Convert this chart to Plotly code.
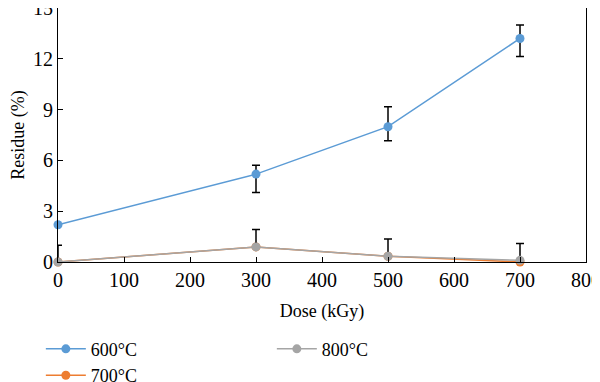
import plotly.graph_objects as go

dose = [0, 300, 500, 700]
s600 = [2.2, 5.19, 7.99, 13.2]
s600_plus = [0.0, 0.53, 1.18, 0.8]
s600_minus = [0.0, 1.09, 0.83, 1.07]
s700 = [0.0, 0.89, 0.34, 0.0]
s800 = [0.0, 0.89, 0.34, 0.1]
s800_plus = [0.99, 1.03, 1.02, 0.99]
names = ["600°C", "700°C", "800°C"]
colors = ["#5B9BD5", "#ED7D31", "#A5A5A5"]

font = "Liberation Serif"
tf = dict(family=font, size=20, color="black")
fig = go.Figure()
fig.add_trace(go.Scatter(
    x=dose, y=s600, name=names[0], mode="lines+markers", legend="legend",
    line=dict(color=colors[0], width=1.5), marker=dict(size=9, color=colors[0]),
    error_y=dict(type="data", symmetric=False, array=s600_plus, arrayminus=s600_minus,
                 color="black", thickness=1.5, width=4),
    cliponaxis=False))
fig.add_trace(go.Scatter(
    x=dose, y=s700, name=names[1], mode="lines+markers", legend="legend",
    line=dict(color=colors[1], width=1.5), marker=dict(size=9, color=colors[1]),
    cliponaxis=False))
fig.add_trace(go.Scatter(
    x=dose, y=s800, name=names[2], mode="lines+markers", legend="legend2",
    line=dict(color=colors[2], width=1.5), marker=dict(size=9, color=colors[2]),
    error_y=dict(type="data", symmetric=False, array=s800_plus, arrayminus=[0, 0, 0, 0],
                 color="black", thickness=1.5, width=4),
    cliponaxis=False))

legfont = dict(family=font, size=18, color="black")
fig.update_layout(
    width=592, height=374,
    margin=dict(l=50, r=14, t=0, b=120, autoexpand=False),
    paper_bgcolor="white", plot_bgcolor="white",
    font=dict(family=font, size=18, color="black"),
    showlegend=True,
    legend=dict(orientation="v", x=-0.0325, y=0.1374, yref="container", xanchor="left", yanchor="top",
                font=legfont, tracegroupgap=0, itemwidth=40, traceorder="normal"),
    legend2=dict(orientation="v", x=0.405, y=0.1374, yref="container", xanchor="left", yanchor="top",
                 font=legfont, tracegroupgap=0, itemwidth=40),
    xaxis=dict(range=[0, 800], tickvals=[0, 100, 200, 300, 400, 500, 600, 700, 800],
               ticks="inside", ticklen=5, tickcolor="black", tickwidth=1.2, tickfont=tf,
               ticklabeloverflow="allow",
               showline=True, linecolor="black", linewidth=1.2, mirror=True,
               showgrid=False, zeroline=False, automargin=False,
               title=dict(text="Dose (kGy)", font=dict(family=font, size=18), standoff=14)),
    yaxis=dict(range=[0, 15], tickvals=[0, 3, 6, 9, 12, 15],
               ticks="inside", ticklen=5, tickcolor="black", tickwidth=1.2, tickfont=tf,
               ticklabeloverflow="allow",
               showline=True, linecolor="black", linewidth=1.2, mirror=True,
               showgrid=False, zeroline=False, automargin=False,
               title=dict(text="Residue (%)", font=dict(family=font, size=18), standoff=6)),
)
fig.write_html("out.html")
